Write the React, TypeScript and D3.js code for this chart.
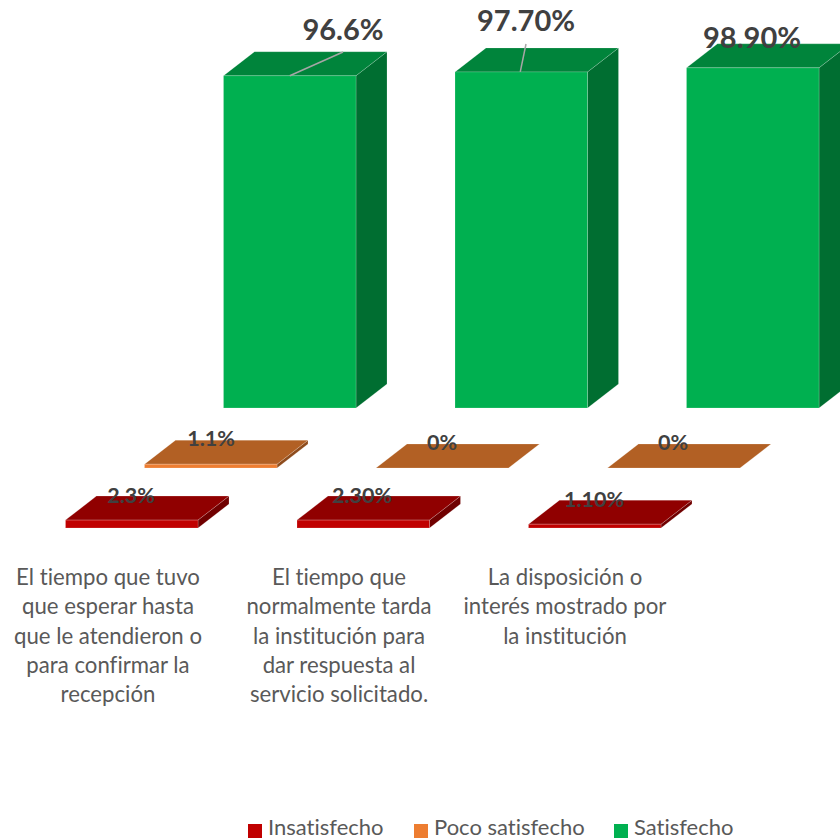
import React from "react";
import * as d3 from "d3";

const categories = [
  ["El tiempo que tuvo", "que esperar hasta", "que le atendieron o", "para confirmar la", "recepción"],
  ["El tiempo que", "normalmente tarda", "la institución para", "dar respuesta al", "servicio solicitado."],
  ["La disposición o", "interés mostrado por", "la institución"],
];
const seriesNames = ["Insatisfecho", "Poco satisfecho", "Satisfecho"];
const insatisfecho = [2.3, 2.3, 1.1];
const pocoSatisfecho = [1.1, 0, 0];
const satisfecho = [96.6, 97.7, 98.9];
const insatisfechoLabels = ["2.3%", "2.30%", "1.10%"];
const pocoLabels = ["1.1%", "0%", "0%"];
const satisfechoLabels = ["96.6%", "97.70%", "98.90%"];
const seriesColors = ["#C00000", "#ED7D31", "#00B050"];
const topColors = ["#900000", "#B26024", "#00843B"];
const sideColors = ["#700000", "#8E4C1D", "#006E31"];

const FONT = "Lato, 'Open Sans', sans-serif";
const W = 840;
const barW = 132.5;
const depthX = 31;
const depthY = 24;

const x = d3.scaleLinear().domain([0, 2]).range([65.5, 528.5]);
const y = d3.scaleLinear().domain([0, 100]).range([0, 344]);
const seriesX = d3.scalePoint<number>().domain([0, 1, 2]).range([0, 158]);
const baseY = d3.scalePoint<number>().domain([0, 1, 2]).range([528, 408]);

const seriesValues = [insatisfecho, pocoSatisfecho, satisfecho];
const seriesLabels = [insatisfechoLabels, pocoLabels, satisfechoLabels];
const labelPos: [number, number][][] = [
  [[131, 503], [362, 503], [594, 507]],
  [[211, 446], [442, 450], [673, 450]],
  [[343, 40], [526, 31], [752, 48]],
];
const leaderEnds: ([number, number] | null)[] = [[343, 52], [526, 44], null];

const poly = (pts: [number, number][]) => pts.map((p) => p.join(",")).join(" ");
const edge = { stroke: "#ffffff", strokeOpacity: 0.18, strokeWidth: 1 };

export default function App() {
  return (
    <svg
      width={W}
      height={W}
      viewBox={`0 0 ${W} ${W}`}
      style={{
        position: "absolute",
        left: 0,
        top: 0,
        background: "#fff",
        fontFamily: FONT,
        fontVariantLigatures: "none",
      }}
    >
      {seriesValues.map((vals, s) =>
        vals.map((v, i) => {
          const x0 = x(i) + (seriesX(s) as number);
          const x1 = x0 + barW;
          const yb = baseY(s) as number;
          const yt = yb - y(v);
          return (
            <g key={`${s}-${i}`}>
              {v > 0 && (
                <polygon
                  points={poly([[x1, yt], [x1 + depthX, yt - depthY], [x1 + depthX, yb - depthY], [x1, yb]])}
                  fill={sideColors[s]}
                  {...edge}
                />
              )}
              <polygon
                points={poly([[x0, yt], [x0 + depthX, yt - depthY], [x1 + depthX, yt - depthY], [x1, yt]])}
                fill={topColors[s]}
                {...edge}
              />
              {v > 0 && (
                <rect x={x0} y={yt} width={barW} height={yb - yt} fill={seriesColors[s]} {...edge} />
              )}
            </g>
          );
        })
      )}
      {satisfecho.map((v, i) => {
        const end = leaderEnds[i];
        if (!end) return null;
        const x0 = x(i) + (seriesX(2) as number);
        return (
          <line
            key={i}
            x1={x0 + barW / 2 - (i === 1 ? 1 : 0)}
            y1={(baseY(2) as number) - y(v)}
            x2={end[0]}
            y2={end[1]}
            stroke="#A6A6A6"
            strokeWidth={1.5}
          />
        );
      })}
      {seriesLabels.map((labels, s) =>
        labels.map((t, i) => (
          <text
            key={`${s}-${i}`}
            x={labelPos[s][i][0]}
            y={labelPos[s][i][1]}
            textAnchor="middle"
            fontWeight={700}
            fontSize={s === 2 ? 29 : 21.5}
            fill="#404040"
          >
            {t}
          </text>
        ))
      )}
      {categories.map((lines, i) => (
        <text key={i} textAnchor="middle" fontSize={22.2} fill="#595959">
          {lines.map((l, j) => (
            <tspan key={j} x={[108, 339, 565][i]} y={585 + j * 29.3}>
              {l}
            </tspan>
          ))}
        </text>
      ))}
      {seriesNames.map((n, i) => (
        <g key={n}>
          <rect x={[248, 414, 614][i]} y={824} width={14} height={14} fill={seriesColors[i]} />
          <text x={[268, 434, 634][i]} y={835.2} fontSize={22} fill="#595959">
            {n}
          </text>
        </g>
      ))}
    </svg>
  );
}
